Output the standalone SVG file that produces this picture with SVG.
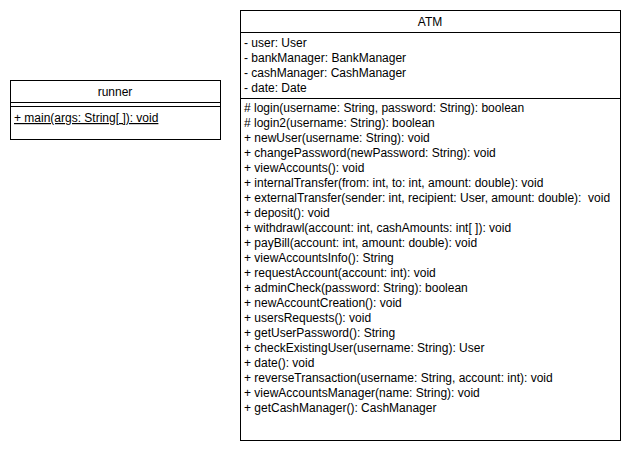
<svg xmlns="http://www.w3.org/2000/svg" width="630" height="450" viewBox="0 0 630 450">
  <style>
    .box { fill: #ffffff; stroke: #000000; stroke-width: 1; }
    .sep { stroke: #000000; stroke-width: 1; fill: none; }
    text { font-family: "Liberation Sans", Arial, Helvetica, sans-serif; font-size: 12px; fill: #000000; }
    .title { text-anchor: middle; }
    .u { text-decoration: underline; }
  </style>
  <rect width="630" height="450" fill="#ffffff"/>

  <!-- runner class -->
  <g id="runner">
    <rect class="box" x="10.5" y="80.5" width="210" height="59"/>
    <text class="title" x="115" y="96">runner</text>
    <line class="sep" x1="10.5" y1="102.5" x2="220.5" y2="102.5"/>
    <line class="sep" x1="10.5" y1="106.5" x2="220.5" y2="106.5"/>
    <text class="u" x="14" y="122">+ main(args: String[ ]): void</text>
  </g>

  <!-- ATM class -->
  <g id="atm">
    <rect class="box" x="240.5" y="10.5" width="380" height="430"/>
    <text class="title" x="430" y="26">ATM</text>
    <line class="sep" x1="240.5" y1="32.5" x2="620.5" y2="32.5"/>
    <text x="244" y="47">- user: User</text>
    <text x="244" y="62">- bankManager: BankManager</text>
    <text x="244" y="77">- cashManager: CashManager</text>
    <text x="244" y="92">- date: Date</text>
    <line class="sep" x1="240.5" y1="98.5" x2="620.5" y2="98.5"/>
    <text x="244" y="112"># login(username: String, password: String): boolean</text>
    <text x="244" y="127"># login2(username: String): boolean</text>
    <text x="244" y="142">+ newUser(username: String): void</text>
    <text x="244" y="157">+ changePassword(newPassword: String): void</text>
    <text x="244" y="172">+ viewAccounts(): void</text>
    <text x="244" y="187">+ internalTransfer(from: int, to: int, amount: double): void</text>
    <text x="244" y="202" xml:space="preserve">+ externalTransfer(sender: int, recipient: User, amount: double):  void</text>
    <text x="244" y="217">+ deposit(): void</text>
    <text x="244" y="232">+ withdrawl(account: int, cashAmounts: int[ ]): void</text>
    <text x="244" y="247">+ payBill(account: int, amount: double): void</text>
    <text x="244" y="262">+ viewAccountsInfo(): String</text>
    <text x="244" y="277">+ requestAccount(account: int): void</text>
    <text x="244" y="292">+ adminCheck(password: String): boolean</text>
    <text x="244" y="307">+ newAccountCreation(): void</text>
    <text x="244" y="322">+ usersRequests(): void</text>
    <text x="244" y="337">+ getUserPassword(): String</text>
    <text x="244" y="352">+ checkExistingUser(username: String): User</text>
    <text x="244" y="367">+ date(): void</text>
    <text x="244" y="382">+ reverseTransaction(username: String, account: int): void</text>
    <text x="244" y="397">+ viewAccountsManager(name: String): void</text>
    <text x="244" y="412">+ getCashManager(): CashManager</text>
  </g>

  <!-- no connectors between the classes -->
  <g id="connectors"/>
</svg>
